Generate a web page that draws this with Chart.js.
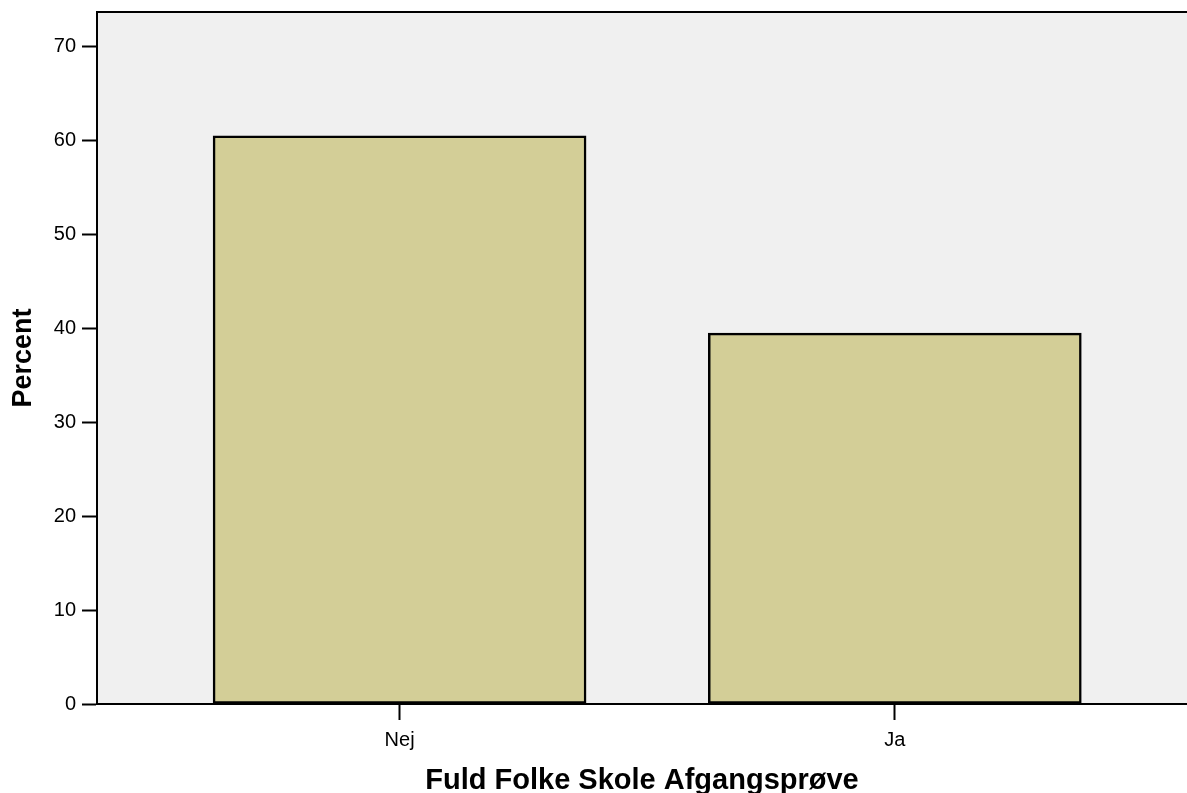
<!DOCTYPE html>
<html>
<head>
<meta charset="utf-8">
<script src="https://cdn.jsdelivr.net/npm/chart.js@4/dist/chart.umd.min.js"></script>
<style>
  html, body { margin: 0; padding: 0; background: #ffffff; }
  #wrap { width: 1187px; height: 793px; position: relative; }
</style>
</head>
<body>
<div id="wrap"><canvas id="c" width="1187" height="793"></canvas></div>
<script>
const categories = ['Nej', 'Ja'];
const percentValues = [60.5, 39.5];
const yTickValues = [0, 10, 20, 30, 40, 50, 60, 70];
const xAxisTitle = 'Fuld Folke Skole Afgangsprøve';
const yAxisTitle = 'Percent';

const FONT = '"Liberation Sans", Arial, Helvetica, sans-serif';

const plotBackground = {
  id: 'plotBackground',
  beforeDraw(chart) {
    const { ctx, chartArea: a } = chart;
    ctx.save();
    ctx.fillStyle = '#f0f0f0';
    ctx.fillRect(a.left, a.top, a.right - a.left, a.bottom - a.top);
    ctx.restore();
  },
  afterDraw(chart) {
    const { ctx, chartArea: a } = chart;
    ctx.save();
    ctx.strokeStyle = '#000';
    ctx.lineWidth = 2;
    ctx.beginPath();
    ctx.moveTo(a.left - 1, a.top);
    ctx.lineTo(a.right, a.top);
    ctx.stroke();
    ctx.restore();
  }
};

new Chart(document.getElementById('c'), {
  type: 'bar',
  data: {
    datasets: [{
      data: percentValues.map((v, i) => ({ x: i, y: v })),
      backgroundColor: '#d3ce97',
      borderColor: '#000000',
      borderWidth: 2.5,
      borderSkipped: false,
      barThickness: 373
    }]
  },
  options: {
    responsive: false,
    animation: false,
    devicePixelRatio: 1,
    layout: { padding: { top: 12, right: 0, left: 0, bottom: 0 } },
    plugins: { legend: { display: false }, tooltip: { enabled: false } },
    scales: {
      x: {
        type: 'linear',
        offset: false,
        min: -0.611,
        max: 1.59,
        afterBuildTicks(axis) { axis.ticks = categories.map((_, i) => ({ value: i })); },
        afterFit(axis) { axis.height = 89; axis.paddingLeft = 0; axis.paddingRight = 0; },
        ticks: {
          callback: (v) => categories[v] ?? '',
          color: '#000',
          font: { family: FONT, size: 20 },
          padding: 8,
          maxRotation: 0,
          autoSkip: false
        },
        grid: { display: true, offset: false, drawOnChartArea: false, drawTicks: true, tickLength: 16, tickWidth: 2, tickColor: '#000' },
        border: { display: true, color: '#000', width: 2 },
        title: {
          display: true,
          text: xAxisTitle,
          color: '#000',
          font: { family: FONT, size: 29, weight: 'bold', lineHeight: 0.95 },
          padding: { top: 0, bottom: -2 }
        }
      },
      y: {
        min: 0,
        max: 73.7,
        afterBuildTicks(axis) { axis.ticks = yTickValues.map(v => ({ value: v })); },
        afterFit(axis) { axis.width = 97; axis.paddingTop = 0; axis.paddingBottom = 0; },
        ticks: {
          color: '#000',
          font: { family: FONT, size: 20 },
          padding: 6
        },
        grid: { display: true, drawOnChartArea: false, drawTicks: true, tickLength: 15, tickWidth: 2, tickColor: '#000' },
        border: { display: true, color: '#000', width: 2 },
        title: {
          display: true,
          text: yAxisTitle,
          color: '#000',
          font: { family: FONT, size: 27, weight: 'bold', lineHeight: 1 },
          padding: { top: 10, bottom: 0 }
        }
      }
    }
  },
  plugins: [plotBackground]
});
</script>
</body>
</html>
